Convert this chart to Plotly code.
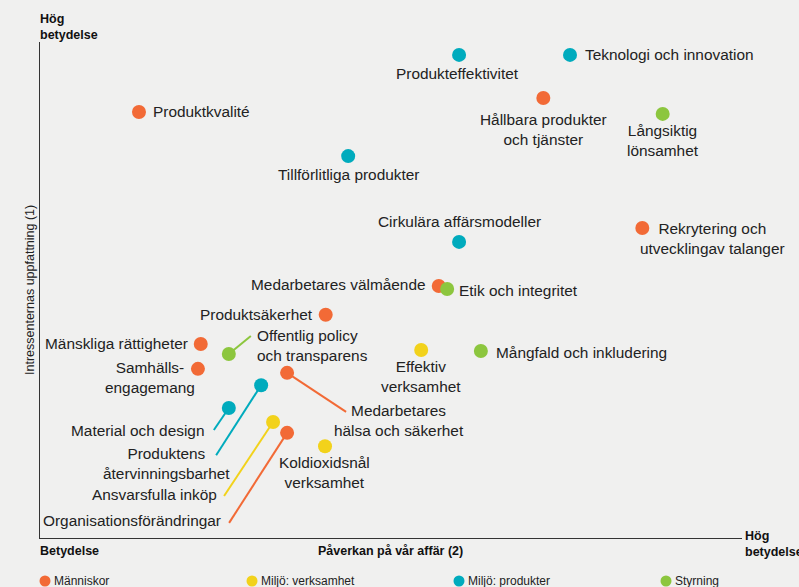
import plotly.graph_objects as go

# --- data -------------------------------------------------------------
topics = [
    'Produktkvalité', 'Produkteffektivitet', 'Teknologi och innovation',
    'Hållbara produkter och tjänster', 'Långsiktig lönsamhet', 'Tillförlitliga produkter',
    'Cirkulära affärsmodeller', 'Rekrytering och utvecklingav talanger',
    'Medarbetares välmående', 'Etik och integritet', 'Produktsäkerhet',
    'Mänskliga rättigheter', 'Offentlig policy och transparens', 'Samhällsengagemang',
    'Effektiv verksamhet', 'Mångfald och inkludering', 'Medarbetares hälsa och säkerhet',
    'Produktens återvinningsbarhet', 'Material och design', 'Ansvarsfulla inköp',
    'Organisationsförändringar', 'Koldioxidsnål verksamhet',
]
labels = [
    'Produktkvalité', 'Produkteffektivitet', 'Teknologi och innovation',
    'Hållbara produkter<br>och tjänster', 'Långsiktig<br>lönsamhet', 'Tillförlitliga produkter',
    'Cirkulära affärsmodeller', 'Rekrytering och<br>utvecklingav talanger',
    'Medarbetares välmående', 'Etik och integritet', 'Produktsäkerhet',
    'Mänskliga rättigheter', 'Offentlig policy<br>och transparens', 'Samhälls-<br>engagemang',
    'Effektiv<br>verksamhet', 'Mångfald och inkludering', 'Medarbetares<br>hälsa och säkerhet',
    'Produktens<br>återvinningsbarhet', 'Material och design', 'Ansvarsfulla inköp',
    'Organisationsförändringar', 'Koldioxidsnål<br>verksamhet',
]
category = [
    'Människor', 'Miljö: produkter', 'Miljö: produkter',
    'Människor', 'Styrning', 'Miljö: produkter',
    'Miljö: produkter', 'Människor',
    'Människor', 'Styrning', 'Människor',
    'Människor', 'Styrning', 'Människor',
    'Miljö: verksamhet', 'Styrning', 'Människor',
    'Miljö: produkter', 'Miljö: produkter', 'Miljö: verksamhet',
    'Människor', 'Miljö: verksamhet',
]
# Påverkan på vår affär (2)
impact = [14.1, 59.7, 75.5, 71.7, 88.7, 43.9, 59.7, 85.8, 56.8, 58.0, 40.7,
          22.9, 26.9, 22.5, 54.3, 62.8, 35.2, 31.5, 26.9, 33.2, 35.2, 40.6]
# Intressenternas uppfattning (1)
stakeholder = [85.9, 97.4, 97.4, 88.7, 85.5, 77.0, 59.7, 62.5, 50.8, 50.2, 45.0,
               39.1, 37.1, 34.1, 37.9, 37.7, 33.3, 30.8, 26.2, 23.4, 21.2, 18.5]

categories = ['Människor', 'Miljö: verksamhet', 'Miljö: produkter', 'Styrning']
colors = {'Människor': '#f26a36', 'Miljö: verksamhet': '#f2d21b',
          'Miljö: produkter': '#00abbd', 'Styrning': '#8cc63e'}

# --- label layout (pixel offsets from the dot) ------------------------
# name: (xshift, yshift, xanchor)
label_pos = {
    'Produktkvalité': (12, 0, 'left'),
    'Produkteffektivitet': (-2, -19, 'center'),
    'Teknologi och innovation': (13, 0, 'left'),
    'Hållbara produkter och tjänster': (0, -31, 'center'),
    'Långsiktig lönsamhet': (0, -27, 'center'),
    'Tillförlitliga produkter': (0, -18, 'center'),
    'Cirkulära affärsmodeller': (0, 20, 'center'),
    'Rekrytering och utvecklingav talanger': (70, -10, 'center'),
    'Medarbetares välmående': (-11, 2, 'right'),
    'Etik och integritet': (10, -1, 'left'),
    'Produktsäkerhet': (-11, 0, 'right'),
    'Mänskliga rättigheter': (-11, 1, 'right'),
    'Offentlig policy och transparens': (26, 8.5, 'left'),
    'Samhällsengagemang': (-48, -8.5, 'center'),
    'Effektiv verksamhet': (0, -26.5, 'center'),
    'Mångfald och inkludering': (13, -1, 'left'),
    'Medarbetares hälsa och säkerhet': (112, -48, 'center'),
    'Produktens återvinningsbarhet': (-95, -78.5, 'center'),
    'Material och design': (-23, -22, 'right'),
    'Ansvarsfulla inköp': (-54, -73, 'right'),
    'Organisationsförändringar': (-64, -88, 'right'),
    'Koldioxidsnål verksamhet': (-1, -26.5, 'center'),
}
# leader lines: name: (dx, dy) pixels from dot to line end (dy downwards)
leaders = {
    'Offentlig policy och transparens': (22, -18),
    'Medarbetares hälsa och säkerhet': (59, 39),
    'Produktens återvinningsbarhet': (-45, 70),
    'Material och design': (-15, 22),
    'Ansvarsfulla inköp': (-49, 74),
    'Organisationsförändringar': (-58, 90),
}

W, H = 799, 587
ML, MR, MT, MB = 40, 57, 42, 49
PW, PH = W - ML - MR, H - MT - MB
XR, YR = [0, 100], [0, 100]
ux = PW / (XR[1] - XR[0])
uy = PH / (YR[1] - YR[0])
BG = '#f0f0ef'


def px(x):
    return (x - ML) / PW


def py(y):
    return (H - MB - y) / PH


fig = go.Figure()

for name, (dx, dy) in leaders.items():
    i = topics.index(name)
    fig.add_trace(go.Scatter(
        x=[impact[i], impact[i] + dx / ux],
        y=[stakeholder[i], stakeholder[i] - dy / uy],
        mode='lines', line=dict(color=colors[category[i]], width=2),
        hoverinfo='skip', showlegend=False, cliponaxis=False,
    ))

for cat in categories:
    idx = [i for i, c in enumerate(category) if c == cat]
    fig.add_trace(go.Scatter(
        x=[impact[i] for i in idx],
        y=[stakeholder[i] for i in idx],
        mode='markers', name=cat,
        marker=dict(size=14, color=colors[cat]),
        text=[topics[i] for i in idx],
        hovertemplate='%{text}<extra></extra>',
        showlegend=False, cliponaxis=False,
    ))

for i, name in enumerate(topics):
    xs, ys, xa = label_pos[name]
    fig.add_annotation(
        x=impact[i], y=stakeholder[i], text=labels[i], showarrow=False,
        xshift=xs, yshift=ys, xanchor=xa, yanchor='middle',
        align='left' if xa == 'left' else ('right' if xa == 'right' else 'center'),
        font=dict(size=15.4, color='#222222'),
    )

bold = dict(size=12.5, color='#111111', family='Liberation Sans, Arial, sans-serif')
fig.add_annotation(xref='paper', yref='paper', x=px(38), y=py(27), text='<b>Hög<br>betydelse</b>',
                   showarrow=False, xanchor='left', yanchor='middle', align='left', font=bold)
fig.add_annotation(xref='paper', yref='paper', x=px(38), y=py(551), text='<b>Betydelse</b>',
                   showarrow=False, xanchor='left', yanchor='middle', font=bold)
fig.add_annotation(xref='paper', yref='paper', x=px(390), y=py(551), text='<b>Påverkan på vår affär (2)</b>',
                   showarrow=False, xanchor='center', yanchor='middle', font=bold)
fig.add_annotation(xref='paper', yref='paper', x=px(743), y=py(544), text='<b>Hög<br>betydelse</b>',
                   showarrow=False, xanchor='left', yanchor='middle', align='left', font=bold)
fig.add_annotation(xref='paper', yref='paper', x=px(30), y=py(290), text='Intressenternas uppfattning (1)',
                   textangle=-90, showarrow=False, xanchor='center', yanchor='middle',
                   font=dict(size=12.5, color='#222222'))

# legend row
leg_x = [45, 252, 459, 666]
for cat, lx in zip(categories, leg_x):
    fig.add_shape(type='circle', xref='paper', yref='paper',
                  x0=px(lx - 5.5), x1=px(lx + 5.5), y0=py(581 + 5.5), y1=py(581 - 5.5),
                  fillcolor=colors[cat], line=dict(width=0))
    fig.add_annotation(xref='paper', yref='paper', x=px(lx + 7), y=py(581), text=cat,
                       showarrow=False, xanchor='left', yanchor='middle',
                       font=dict(size=12, color='#222222'))

axis = dict(range=XR, showgrid=False, zeroline=False, showticklabels=False, ticks='',
            showline=True, linecolor='#333333', linewidth=1)
fig.update_layout(
    width=W, height=H,
    margin=dict(l=ML, r=MR, t=MT, b=MB),
    paper_bgcolor=BG, plot_bgcolor=BG,
    font=dict(family='Liberation Sans, Arial, sans-serif', color='#222222'),
    xaxis=axis, yaxis=dict(axis, range=YR),
    showlegend=False,
)

fig.write_html('out.html', config={'displayModeBar': False},
               post_script=f"document.body.style.margin='0';document.body.style.background='{BG}';")
